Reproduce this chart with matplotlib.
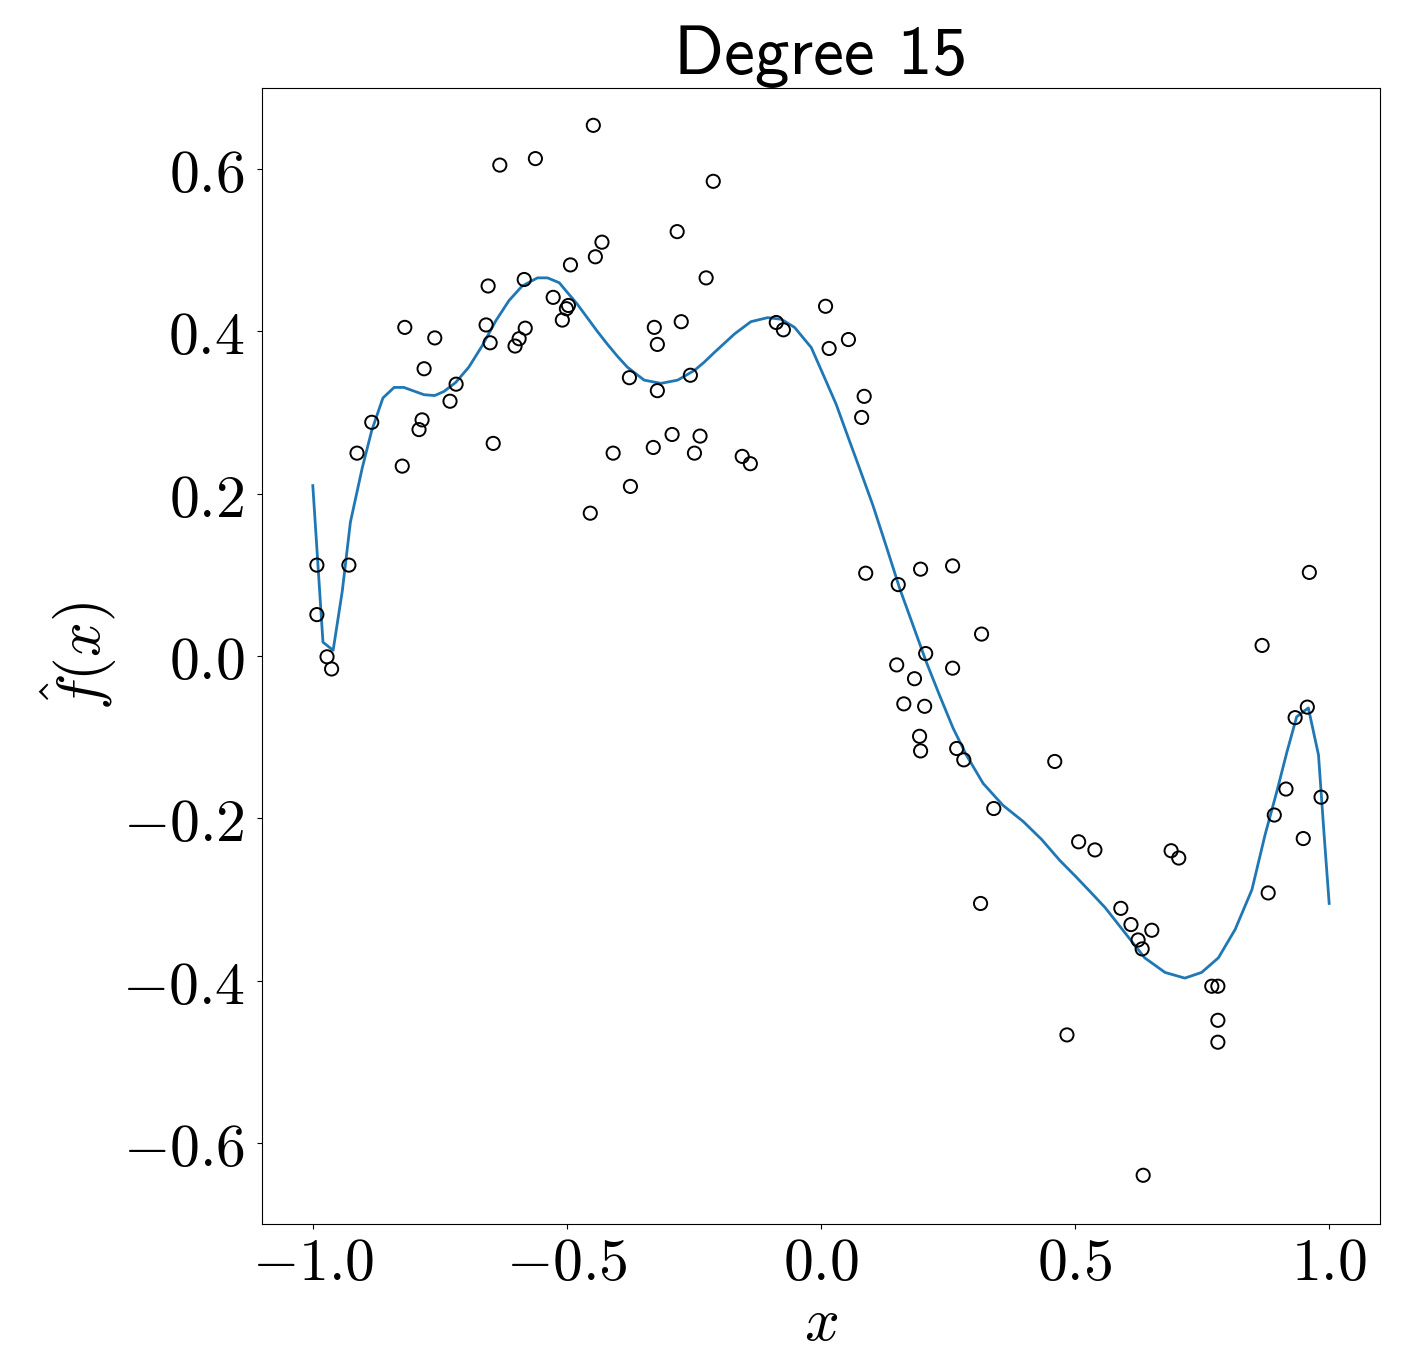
import os
import numpy as np
import matplotlib
matplotlib.use("Agg")
import matplotlib.pyplot as plt
from matplotlib.ticker import FuncFormatter
from matplotlib.font_manager import FontProperties

plt.rcParams['mathtext.fontset'] = 'cm'

# noisy samples
x_pts = [-0.992, -0.992, -0.972, -0.963, -0.929, -0.913, -0.884, -0.824, -0.819, -0.791,
         -0.785, -0.781, -0.760, -0.730, -0.718, -0.659, -0.655, -0.651, -0.645, -0.632,
         -0.602, -0.594, -0.582, -0.584, -0.562, -0.527, -0.509, -0.501, -0.497, -0.493,
         -0.454, -0.448, -0.444, -0.431, -0.409, -0.377, -0.375, -0.330, -0.328, -0.322,
         -0.322, -0.293, -0.283, -0.275, -0.257, -0.249, -0.238, -0.226, -0.212, -0.155,
         -0.139, -0.088, -0.074, 0.009, 0.016, 0.054, 0.080, 0.085, 0.088, 0.152,
         0.149, 0.163, 0.184, 0.196, 0.194, 0.196, 0.204, 0.206, 0.259, 0.259,
         0.267, 0.281, 0.316, 0.314, 0.340, 0.460, 0.484, 0.507, 0.539, 0.590,
         0.610, 0.624, 0.632, 0.651, 0.634, 0.689, 0.704, 0.769, 0.781, 0.781,
         0.781, 0.868, 0.880, 0.892, 0.915, 0.933, 0.949, 0.957, 0.961, 0.984]
y_pts = [0.112, 0.051, -0.001, -0.016, 0.112, 0.250, 0.288, 0.234, 0.405, 0.279,
         0.291, 0.354, 0.392, 0.314, 0.335, 0.408, 0.456, 0.386, 0.262, 0.605,
         0.382, 0.391, 0.404, 0.464, 0.613, 0.442, 0.414, 0.428, 0.432, 0.482,
         0.176, 0.654, 0.492, 0.510, 0.250, 0.343, 0.209, 0.257, 0.405, 0.384,
         0.327, 0.273, 0.523, 0.412, 0.346, 0.250, 0.271, 0.466, 0.585, 0.246,
         0.237, 0.411, 0.402, 0.431, 0.379, 0.390, 0.294, 0.320, 0.102, 0.088,
         -0.011, -0.059, -0.028, 0.107, -0.099, -0.117, -0.062, 0.003, 0.111, -0.015,
         -0.114, -0.128, 0.027, -0.305, -0.188, -0.130, -0.467, -0.229, -0.239, -0.311,
         -0.331, -0.350, -0.361, -0.338, -0.640, -0.240, -0.249, -0.407, -0.407, -0.449,
         -0.476, 0.013, -0.292, -0.196, -0.164, -0.076, -0.225, -0.063, 0.103, -0.174]

# fitted degree-15 curve
x_fit = [-1.0, -0.980, -0.960, -0.942, -0.926, -0.903, -0.884, -0.862, -0.840, -0.821,
         -0.781, -0.760, -0.742, -0.719, -0.693, -0.667, -0.640, -0.614, -0.588, -0.558,
         -0.538, -0.515, -0.499, -0.480, -0.460, -0.440, -0.420, -0.400, -0.381, -0.348,
         -0.315, -0.282, -0.249, -0.230, -0.210, -0.170, -0.138, -0.105, -0.078, -0.052,
         -0.019, 0.007, 0.030, 0.052, 0.076, 0.102, 0.128, 0.155, 0.181, 0.207,
         0.233, 0.260, 0.286, 0.319, 0.358, 0.398, 0.434, 0.470, 0.500, 0.529,
         0.559, 0.598, 0.637, 0.677, 0.716, 0.749, 0.782, 0.815, 0.848, 0.874,
         0.897, 0.917, 0.936, 0.959, 0.979, 0.990, 1.0]
y_fit = [0.210, 0.017, 0.007, 0.080, 0.165, 0.231, 0.278, 0.318, 0.331, 0.331,
         0.322, 0.321, 0.326, 0.337, 0.356, 0.382, 0.413, 0.438, 0.456, 0.466,
         0.466, 0.460, 0.448, 0.434, 0.417, 0.400, 0.384, 0.369, 0.356, 0.340,
         0.336, 0.340, 0.352, 0.362, 0.374, 0.397, 0.412, 0.417, 0.415, 0.405,
         0.380, 0.343, 0.310, 0.272, 0.231, 0.186, 0.136, 0.083, 0.038, -0.007,
         -0.048, -0.089, -0.122, -0.157, -0.184, -0.204, -0.226, -0.252, -0.271, -0.290,
         -0.310, -0.341, -0.372, -0.390, -0.397, -0.390, -0.372, -0.337, -0.288, -0.220,
         -0.167, -0.118, -0.075, -0.064, -0.122, -0.220, -0.305]

fig = plt.figure(figsize=(14.04, 13.52), dpi=100)
ax = fig.add_axes([0.1866, 0.0947, 0.7963, 0.8402])

ax.scatter(x_pts, y_pts, s=90, facecolors='none', edgecolors='black', linewidths=1.4, zorder=3)
ax.plot(x_fit, y_fit, color='#1f77b4', lw=2, zorder=2)

ax.set_xlim(-1.1, 1.1)
ax.set_ylim(-0.7, 0.7)
ax.set_xticks([-1.0, -0.5, 0.0, 0.5, 1.0])
ax.set_yticks([-0.6, -0.4, -0.2, 0.0, 0.2, 0.4, 0.6])
fmt = FuncFormatter(lambda v, p: r'$%.1f$' % v)
ax.xaxis.set_major_formatter(fmt)
ax.yaxis.set_major_formatter(fmt)
ax.tick_params(labelsize=43)
ax.tick_params(axis='y', pad=9)

ax.set_xlabel(r'$x$', fontsize=44, labelpad=1)
ax.set_ylabel(r'$\hat{f}(x)$', fontsize=44)
ax.yaxis.set_label_coords(-0.128, 0.5)

sans = FontProperties(fname=os.path.join(matplotlib.get_data_path(), 'fonts', 'ttf', 'cmss10.ttf'), size=50)
ax.set_title('Degree 15', fontproperties=sans)

fig.savefig('out.png', dpi=100)
